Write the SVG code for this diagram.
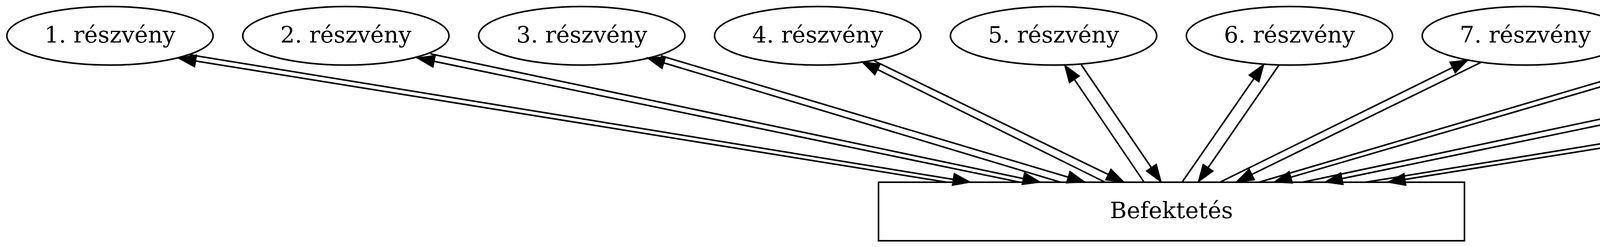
<svg xmlns="http://www.w3.org/2000/svg" width="6051" height="633" viewBox="0 0 6051 633">
<style>
.node ellipse, .node rect { fill: none; stroke: #000; stroke-width: 4; }
.node text { font-family: "DejaVu Serif", "Liberation Serif", serif; font-size: 58.4px; text-anchor: middle; fill: #000; }
.edges line { stroke: #000; stroke-width: 4; fill: none; marker-end: url(#arr); }
</style>
<defs>
<marker id="arr" markerUnits="userSpaceOnUse" orient="auto" refX="3" refY="0" markerWidth="60" markerHeight="40" viewBox="-50 -20 60 40" overflow="visible">
<path d="M-41.7,-14.6 L0,0 L-41.7,14.6 Z" fill="#000" stroke="#000" stroke-width="4"/>
</marker>
</defs>
<rect x="0" y="0" width="6051" height="633" fill="#fff"/>
<g id="n1" class="node"><ellipse cx="281.5" cy="91.7" rx="264" ry="75"/><text x="281.5" y="109">1. részvény</text></g>
<g id="n2" class="node"><ellipse cx="885.4" cy="91.7" rx="264" ry="75"/><text x="885.4" y="109">2. részvény</text></g>
<g id="n3" class="node"><ellipse cx="1489.3" cy="91.7" rx="264" ry="75"/><text x="1489.3" y="109">3. részvény</text></g>
<g id="n4" class="node"><ellipse cx="2093.2" cy="91.7" rx="264" ry="75"/><text x="2093.2" y="109">4. részvény</text></g>
<g id="n5" class="node"><ellipse cx="2697.1" cy="91.7" rx="264" ry="75"/><text x="2697.1" y="109">5. részvény</text></g>
<g id="n6" class="node"><ellipse cx="3301" cy="91.7" rx="264" ry="75"/><text x="3301" y="109">6. részvény</text></g>
<g id="n7" class="node"><ellipse cx="3904.9" cy="91.7" rx="264" ry="75"/><text x="3904.9" y="109">7. részvény</text></g>
<g id="n8" class="node"><ellipse cx="4508.8" cy="91.7" rx="264" ry="75"/><text x="4508.8" y="109">8. részvény</text></g>
<g id="n9" class="node"><ellipse cx="5112.7" cy="91.7" rx="264" ry="75"/><text x="5112.7" y="109">9. részvény</text></g>
<g id="n10" class="node"><ellipse cx="5739" cy="91.7" rx="286" ry="75"/><text x="5739" y="109">10. részvény</text></g>
<g id="befektetes" class="node"><rect x="2249" y="467" width="1500" height="150"/><text x="2999" y="559">Befektetés</text></g>
<g id="edges" class="edges">
<line x1="484" y1="140" x2="2485" y2="467"/>
<line x1="2424" y1="467" x2="456" y2="149"/>
<line x1="1102" y1="138" x2="2664" y2="467"/>
<line x1="2611" y1="467" x2="1067" y2="148"/>
<line x1="1692" y1="143" x2="2778" y2="467"/>
<line x1="2715" y1="467" x2="1656" y2="148"/>
<line x1="2238" y1="156" x2="2878" y2="467"/>
<line x1="2829" y1="467" x2="2206" y2="158"/>
<line x1="2768" y1="166" x2="2973" y2="467"/>
<line x1="2929" y1="467" x2="2725" y2="166"/>
<line x1="3274" y1="167" x2="3067" y2="467"/>
<line x1="3026" y1="467" x2="3236" y2="164"/>
<line x1="3791" y1="160" x2="3164" y2="467"/>
<line x1="3123" y1="467" x2="3759" y2="153"/>
<line x1="4346" y1="150" x2="3261" y2="467"/>
<line x1="3223" y1="467" x2="4321" y2="143"/>
<line x1="4933" y1="147" x2="3391" y2="467"/>
<line x1="3335" y1="467" x2="4899" y2="135"/>
<line x1="5551" y1="147" x2="3552" y2="467"/>
<line x1="3496" y1="467" x2="5513" y2="137"/>
</g>
</svg>
